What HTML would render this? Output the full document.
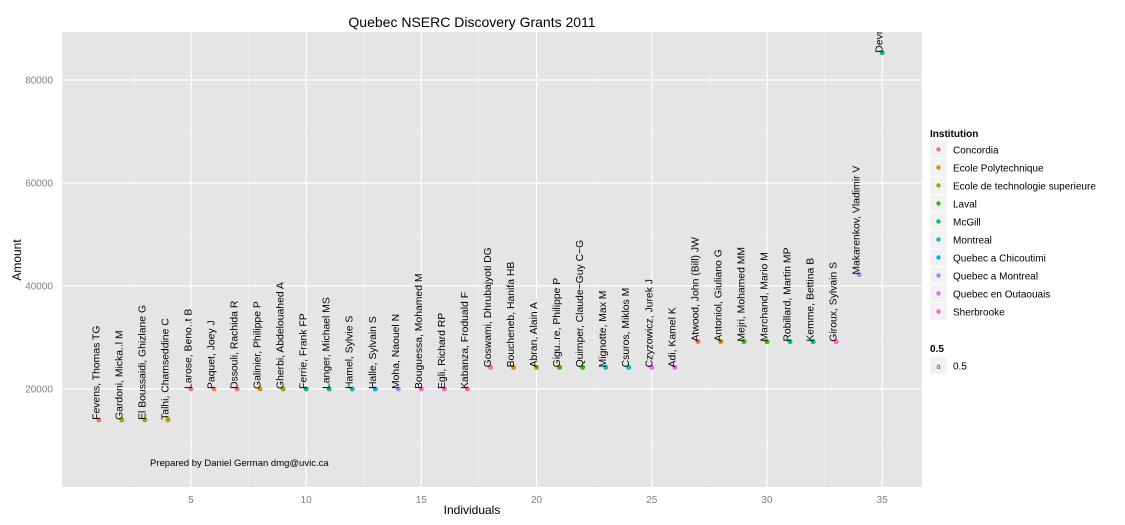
<!DOCTYPE html>
<html><head><meta charset="utf-8">
<style>
body{margin:0;background:#fff;}
svg{font-family:"Liberation Sans",sans-serif;display:block;}
</style></head>
<body>
<svg id="chart" width="1125" height="525">
<defs><clipPath id="panelclip"><rect x="62" y="32" width="860" height="455"/></clipPath></defs>
<rect x="62" y="32" width="860" height="455" fill="#e5e5e5"/>
<g id="grid"></g>
<g id="points" clip-path="url(#panelclip)"></g>
<g id="axes"></g>
<text x="472" y="27" font-size="14" text-anchor="middle">Quebec NSERC Discovery Grants 2011</text>
<text x="472" y="514" font-size="12" text-anchor="middle">Individuals</text>
<text transform="translate(21,260) rotate(-90)" font-size="12" text-anchor="middle">Amount</text>
<text x="150" y="466" font-size="9.5">Prepared by Daniel German dmg@uvic.ca</text>
<g id="legend"></g>
</svg>
<script>
const institutions=["Concordia","Ecole Polytechnique","Ecole de technologie superieure","Laval","McGill","Montreal","Quebec a Chicoutimi","Quebec a Montreal","Quebec en Outaouais","Sherbrooke"];
const colors=["#F8766D","#D89000","#A3A500","#39B600","#00BF7D","#00BFC4","#00B0F6","#9590FF","#E76BF3","#FF62BC"];
const names=["Fevens, Thomas TG","Gardoni, Micka..l M","El Boussaidi, Ghizlane G","Talhi, Chamseddine C","Larose, Beno..t B","Paquet, Joey J","Dssouli, Rachida R","Galinier, Philippe P","Gherbi, Abdelouahed A","Ferrie, Frank FP","Langer, Michael MS","Hamel, Sylvie S","Halle, Sylvain S","Moha, Naouel N","Bouguessa, Mohamed M","Egli, Richard RP","Kabanza, Froduald F","Goswami, Dhrubajyoti DG","Boucheneb, Hanifa HB","Abran, Alain A","Gigu..re, Philippe P","Quimper, Claude\u2212Guy C\u2212G","Mignotte, Max M","Csuros, Miklos M","Czyzowicz, Jurek J","Adi, Kamel K","Atwood, John (Bill) JW","Antoniol, Giuliano G","Mejri, Mohamed MM","Marchand, Mario M","Robillard, Martin MP","Kemme, Bettina B","Giroux, Sylvain S","Makarenkov, Vladimir V","Devroye, Luc"];
const amounts=[14000,14000,14000,14000,20000,20000,20000,20000,20000,20000,20000,20000,20000,20000,20000,20000,20000,24200,24200,24200,24200,24200,24200,24200,24200,24200,29200,29200,29200,29200,29200,29200,29200,42200,85300];
const instIdx=[0,2,2,2,0,0,0,1,2,4,4,5,6,7,9,9,9,0,1,2,3,3,5,5,8,8,0,1,3,3,4,4,9,7,4];
const xTicks=[5,10,15,20,25,30,35];
const yTicks=[20000,40000,60000,80000];
const NS="http://www.w3.org/2000/svg";
const px=v=>98.8+(v-1)*23.04;
const py=v=>492-v*103/20000;
function mk(tag,attrs,parent){const e=document.createElementNS(NS,tag);for(const k in attrs)e.setAttribute(k,attrs[k]);parent.appendChild(e);return e;}
const grid=document.getElementById('grid'),pts=document.getElementById('points'),axes=document.getElementById('axes'),leg=document.getElementById('legend');
for(let i=0;i<xTicks.length;i++){const m=xTicks[i]-2.5;const l=mk('line',{x1:px(m),x2:px(m),y1:32,y2:487,stroke:'#f2f2f2','stroke-width':0.6},grid);}
for(let i=0;i<yTicks.length;i++){const m=yTicks[i]-10000;const l=mk('line',{x1:62,x2:922,y1:py(m),y2:py(m),stroke:'#f2f2f2','stroke-width':0.6},grid);}
xTicks.forEach(t=>{const l=mk('line',{x1:px(t),x2:px(t),y1:32,y2:487,stroke:'#fff','stroke-width':1.2},grid);
const tx=mk('text',{x:px(t),y:503,'font-size':10,fill:'#7f7f7f','text-anchor':'middle'},axes);tx.textContent=t;});
yTicks.forEach(t=>{const l=mk('line',{x1:62,x2:922,y1:py(t),y2:py(t),stroke:'#fff','stroke-width':1.2},grid);
const tx=mk('text',{x:53,y:py(t)+3.5,'font-size':10,fill:'#7f7f7f','text-anchor':'end'},axes);tx.textContent=t;});
amounts.forEach((a,i)=>{const x=px(i+1),y=py(a);
const c=mk('circle',{cx:x,cy:y,r:2.5,fill:colors[instIdx[i]]},pts);
const t=mk('text',{transform:`translate(${x+0.5},${y}) rotate(-90)`,'font-size':10.4,fill:'#000'},pts);t.textContent=names[i];});
const lt=mk('text',{x:930,y:137,'font-size':10,'font-weight':'bold'},leg);lt.textContent='Institution';
institutions.forEach((n,i)=>{const y=141+i*18;
const r=mk('rect',{x:930,y:y,width:17,height:17,fill:'#f2f2f2'},leg);
const c=mk('circle',{cx:938.5,cy:y+8.5,r:2.2,fill:colors[i]},leg);
const t=mk('text',{x:953,y:y+12.5,'font-size':10},leg);t.textContent=n;});
const t2=mk('text',{x:930,y:352,'font-size':10,'font-weight':'bold'},leg);t2.textContent='0.5';
const r2=mk('rect',{x:930,y:357,width:17,height:17,fill:'#f2f2f2'},leg);
const a2=mk('text',{x:938.5,y:369,'font-size':8,'text-anchor':'middle',fill:'#555'},leg);a2.textContent='a';
const e2=mk('text',{x:953,y:369.5,'font-size':10},leg);e2.textContent='0.5';
</script>
</body></html>
